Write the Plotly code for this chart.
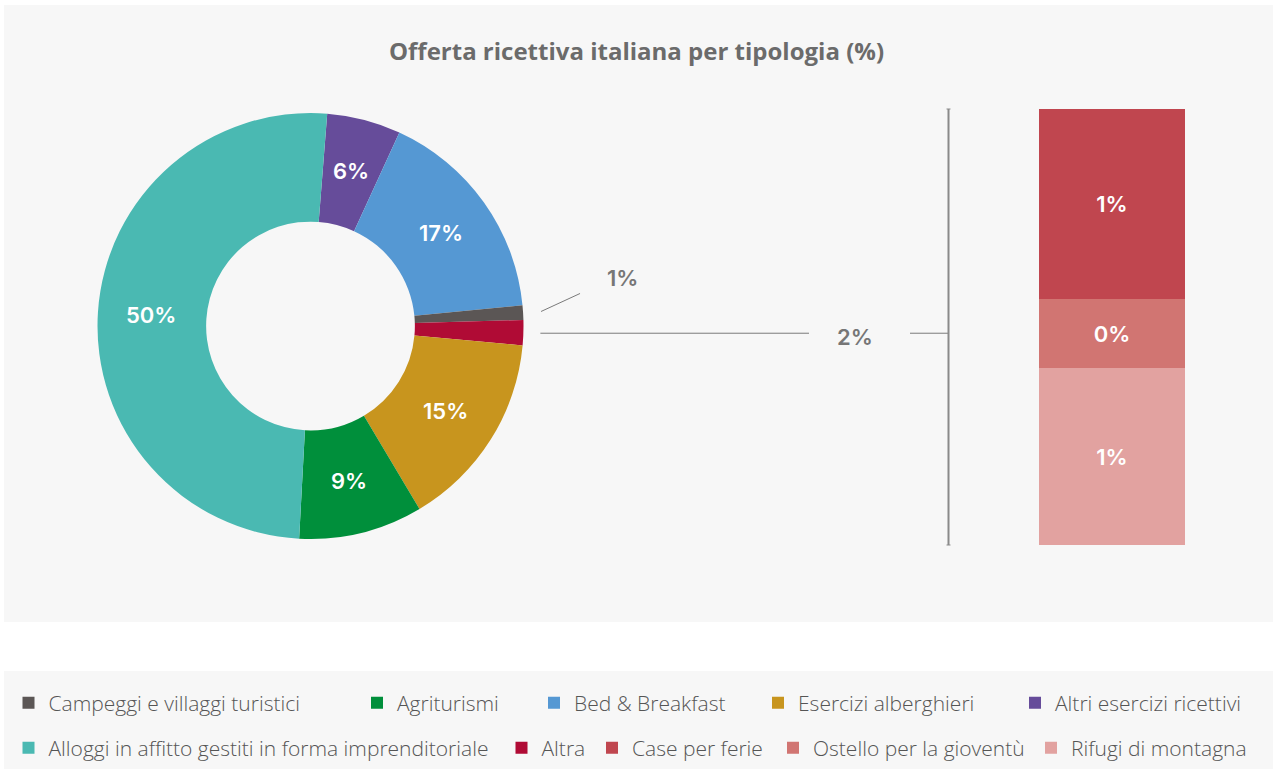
import math
import plotly.graph_objects as go

W, H = 1273, 769

# Quote percentuali per tipologia (ordine della legenda)
categorie = [
    "Campeggi e villaggi turistici",
    "Agriturismi",
    "Bed & Breakfast",
    "Esercizi alberghieri",
    "Altri esercizi ricettivi",
    "Alloggi in affitto gestiti in forma imprenditoriale",
    "Altra",
]
quote = [1.1, 9.4, 16.6, 15.0, 5.6, 50.4, 1.9]
colori = ["#5B5655", "#008F3B", "#5598D3", "#C8951E", "#664C9A", "#4AB9B2", "#B00B35"]

# Dettaglio della voce "Altra" (barra impilata, dal basso verso l'alto)
dettaglio_altra = ["Rifugi di montagna", "Ostello per la gioventù", "Case per ferie"]
quote_altra = [0.77, 0.30, 0.83]
colori_altra = ["#E2A2A0", "#D17572", "#C0464F"]

# Ordine degli spicchi lungo l'anello (senso orario)
ordine_anello = [
    "Altri esercizi ricettivi",
    "Bed & Breakfast",
    "Campeggi e villaggi turistici",
    "Altra",
    "Esercizi alberghieri",
    "Agriturismi",
    "Alloggi in affitto gestiti in forma imprenditoriale",
]

# Voci di legenda su due righe
riga1 = categorie[:5]
riga2 = [categorie[5], categorie[6], "Case per ferie", "Ostello per la gioventù", "Rifugi di montagna"]

# Geometria (pixel)
CX, CY, R = 310.5, 326.0, 213.0
HOLE = 0.49
ROT = 4.5
BAR_X0, BAR_X1, BAR_Y0, BAR_Y1 = 1039, 1185, 109, 545
BRACKET_X = 948.5
LEG_Y = (703, 748)
LEG_X = ((24.5, 373, 550, 774, 1031), (24.5, 517.5, 608, 789, 1047))

LABEL_FONT = "Inter"
TEXT_FONT = "Open Sans"


def fx(px):
    return px / W


def fy(py):
    return 1 - py / H


val = dict(zip(categorie, quote))
col = dict(zip(categorie, colori))
col.update(dict(zip(dettaglio_altra, colori_altra)))

ring_vals = [val[c] for c in ordine_anello]
ring_cols = [col[c] for c in ordine_anello]
tot = sum(ring_vals)

fig = go.Figure()

fig.add_trace(go.Pie(
    labels=ordine_anello,
    values=ring_vals,
    marker=dict(colors=ring_cols, line=dict(width=0)),
    sort=False,
    direction="clockwise",
    rotation=ROT,
    hole=HOLE,
    textinfo="none",
    hoverinfo="label+percent",
    showlegend=False,
    domain=dict(x=[fx(CX - R), fx(CX + R)], y=[fy(CY + R), fy(CY - R)]),
))

# Barra di dettaglio per "Altra"
for nome, v, c in zip(dettaglio_altra, quote_altra, colori_altra):
    fig.add_trace(go.Bar(
        x=[0], y=[v], width=[1],
        marker=dict(color=c, line=dict(width=0)),
        text=[f"{v:.0f}%"],
        textposition="inside",
        insidetextanchor="middle",
        textangle=0,
        textfont=dict(family=LABEL_FONT, size=22, color="white", weight=600),
        name=nome,
        showlegend=False,
        hoverinfo="name+y",
    ))

# Voci di legenda: una legenda per voce, così ogni voce ha la sua posizione
legend_layouts = {}
k = 0
for riga, ys, xs in zip((riga1, riga2), LEG_Y, LEG_X):
    for c, x_mark in zip(riga, xs):
        k += 1
        key = "legend" if k == 1 else f"legend{k}"
        fig.add_trace(go.Scatter(
            x=[None], y=[None], mode="markers",
            marker=dict(symbol="square", size=12, color=col[c], line=dict(width=0)),
            name=c, legend=key, showlegend=True,
        ))
        legend_layouts[key] = dict(
            orientation="h", xanchor="left", yanchor="middle",
            x=fx(x_mark - 16), y=fy(ys),
            bgcolor="rgba(0,0,0,0)", borderwidth=0, traceorder="normal",
            font=dict(family=TEXT_FONT, size=21, color="#555555", weight=300),
            itemclick=False, itemdoubleclick=False,
        )

annotations = []
shapes = []

# Sfondi
shapes.append(dict(type="rect", xref="paper", yref="paper", layer="below",
                   x0=fx(4), x1=1, y0=fy(622), y1=fy(5),
                   fillcolor="#F7F7F7", line=dict(width=0)))
shapes.append(dict(type="rect", xref="paper", yref="paper", layer="below",
                   x0=fx(4), x1=1, y0=0, y1=fy(671),
                   fillcolor="#F7F7F7", line=dict(width=0)))

# Etichette dentro l'anello
r_mid = (R * HOLE + R) / 2 + 1
acc = ROT
mid_angles = {}
for c, v in zip(ordine_anello, ring_vals):
    span = v / tot * 360
    mid = acc + span / 2
    mid_angles[c] = mid
    acc += span
    if v >= 3:
        a = math.radians(mid)
        x = CX + r_mid * math.sin(a)
        y = CY - r_mid * math.cos(a)
        annotations.append(dict(x=fx(x), y=fy(y), xref="paper", yref="paper",
                                xanchor="center", yanchor="middle",
                                text=f"{v:.0f}%", showarrow=False,
                                font=dict(family=LABEL_FONT, size=22, color="white", weight=600)))

line_style = dict(color="#7A7A7A", width=1)
grey_label = dict(family=LABEL_FONT, size=22, color="#767676", weight=600)

# Richiamo per "Campeggi e villaggi turistici"
a = math.radians(mid_angles["Campeggi e villaggi turistici"])
p0 = (CX + (R + 18) * math.sin(a), CY - (R + 18) * math.cos(a))
p1 = (p0[0] + 39, p0[1] - 18)
shapes.append(dict(type="line", xref="paper", yref="paper",
                   x0=fx(p0[0]), y0=fy(p0[1]), x1=fx(p1[0]), y1=fy(p1[1]), line=line_style))
annotations.append(dict(x=fx(p1[0] + 42), y=fy(p1[1] - 15), xref="paper", yref="paper",
                        xanchor="center", yanchor="middle",
                        text=f"{val['Campeggi e villaggi turistici']:.0f}%", showarrow=False,
                        font=grey_label))

# Richiamo per "Altra" verso la barra di dettaglio
a = math.radians(mid_angles["Altra"])
q0 = (CX + (R + 17) * math.sin(a), CY - (R + 17) * math.cos(a))
shapes.append(dict(type="line", xref="paper", yref="paper",
                   x0=fx(q0[0]), y0=fy(q0[1]), x1=fx(809), y1=fy(q0[1]), line=line_style))
shapes.append(dict(type="line", xref="paper", yref="paper",
                   x0=fx(910), y0=fy(q0[1]), x1=fx(BRACKET_X), y1=fy(q0[1]), line=line_style))
annotations.append(dict(x=fx(855), y=fy(q0[1] + 4), xref="paper", yref="paper",
                        xanchor="center", yanchor="middle",
                        text=f"{val['Altra']:.0f}%", showarrow=False,
                        font=grey_label))
shapes.append(dict(type="line", xref="paper", yref="paper",
                   x0=fx(BRACKET_X), y0=fy(BAR_Y0), x1=fx(BRACKET_X), y1=fy(BAR_Y1),
                   line=dict(color="#8A8A8A", width=2)))
for yy in (BAR_Y0, BAR_Y1):
    shapes.append(dict(type="line", xref="paper", yref="paper",
                       x0=fx(BRACKET_X - 2), y0=fy(yy), x1=fx(BRACKET_X + 2), y1=fy(yy),
                       line=dict(color="#8A8A8A", width=1)))

fig.update_layout(
    width=W, height=H,
    margin=dict(l=0, r=0, t=0, b=0),
    paper_bgcolor="white",
    plot_bgcolor="rgba(0,0,0,0)",
    barmode="stack",
    title=dict(text="Offerta ricettiva italiana per tipologia (%)",
               x=0.5, xanchor="center", y=fy(52), yanchor="middle",
               font=dict(family=TEXT_FONT, size=24, color="#6B6B6B", weight=700)),
    xaxis=dict(domain=[fx(BAR_X0), fx(BAR_X1)], range=[-0.5, 0.5], visible=False, fixedrange=True),
    yaxis=dict(domain=[fy(BAR_Y1), fy(BAR_Y0)], range=[0, sum(quote_altra)], visible=False, fixedrange=True),
    shapes=shapes,
    annotations=annotations,
    **legend_layouts,
)

fig.write_html("out.html")
